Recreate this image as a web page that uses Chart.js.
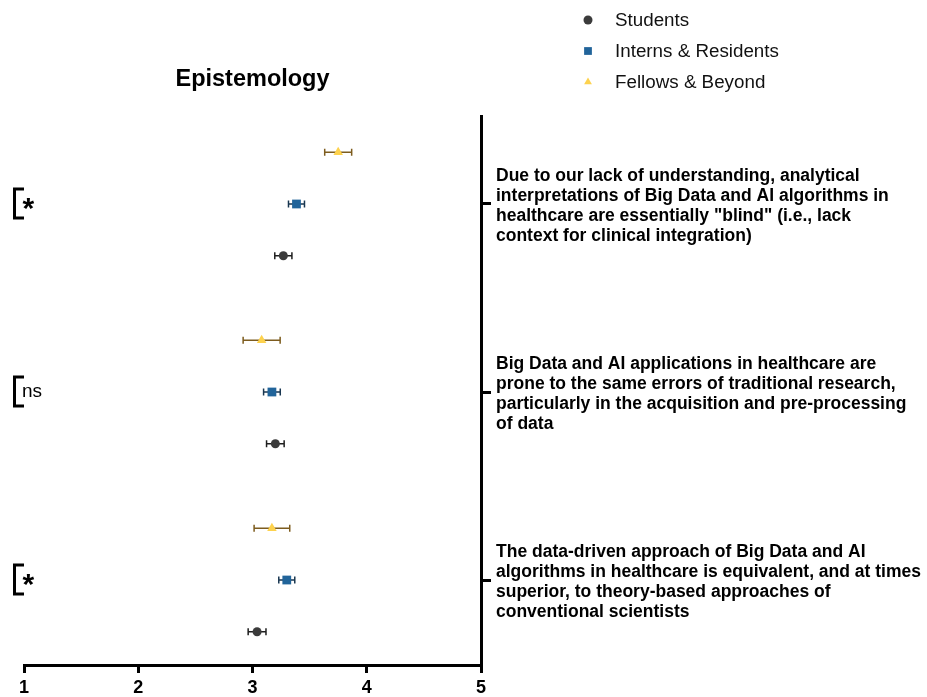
<!DOCTYPE html>
<html>
<head>
<meta charset="utf-8">
<title>Epistemology</title>
<script src="https://cdn.jsdelivr.net/npm/chart.js@4/dist/chart.umd.min.js"></script>
<style>
  body { margin: 0; background: #fff; }
  #wrap { width: 927px; height: 697px; }
</style>
</head>
<body>
<div id="wrap"><canvas id="chart" width="927" height="697"></canvas></div>
<script>
// statements, listed top to bottom
const statements = [
  ['Due to our lack of understanding, analytical',
   'interpretations of Big Data and AI algorithms in',
   'healthcare are essentially "blind" (i.e., lack',
   'context for clinical integration)'],
  ['Big Data and AI applications in healthcare are',
   'prone to the same errors of traditional research,',
   'particularly in the acquisition and pre-processing',
   'of data'],
  ['The data-driven approach of Big Data and AI',
   'algorithms in healthcare is equivalent, and at times',
   'superior, to theory-based approaches of',
   'conventional scientists']
];
const groups = ['Students', 'Interns & Residents', 'Fellows & Beyond'];
const significance = ['*', 'ns', '*'];
const xTicks = [1, 2, 3, 4, 5];

// mean and SEM, same order as statements
const studentsMean = [3.27, 3.20, 3.04];
const studentsErr  = [0.075, 0.077, 0.078];
const internsMean  = [3.385, 3.17, 3.30];
const internsErr   = [0.07, 0.073, 0.07];
const fellowsMean  = [3.75, 3.08, 3.17];
const fellowsErr   = [0.118, 0.162, 0.156];

const FONT = '"Liberation Sans", Arial, sans-serif';
const n = statements.length;
const posOf = i => n - i;          // top statement sits highest on the axis

function points(means, errs, shift) {
  return means.map((m, i) => ({ x: m, y: posOf(i) + shift, err: errs[i] }));
}

// horizontal error bars with caps, drawn under the markers
const errorBars = {
  id: 'errorBars',
  beforeDatasetsDraw(chart) {
    const { ctx, scales: { x, y } } = chart;
    chart.data.datasets.forEach((ds, i) => {
      if (!chart.isDatasetVisible(i)) return;
      ctx.save();
      ctx.strokeStyle = ds.errorColor;
      ctx.lineWidth = 1.5;
      ds.data.forEach(p => {
        const x0 = x.getPixelForValue(p.x - p.err);
        const x1 = x.getPixelForValue(p.x + p.err);
        const yp = y.getPixelForValue(p.y);
        ctx.beginPath();
        ctx.moveTo(x0, yp); ctx.lineTo(x1, yp);
        ctx.moveTo(x0, yp - 3.5); ctx.lineTo(x0, yp + 3.5);
        ctx.moveTo(x1, yp - 3.5); ctx.lineTo(x1, yp + 3.5);
        ctx.stroke();
      });
      ctx.restore();
    });
  }
};

// title over the plot area, stacked legend, significance brackets
const decorations = {
  id: 'decorations',
  afterDraw(chart) {
    const { ctx, chartArea, scales: { y } } = chart;
    ctx.save();
    ctx.fillStyle = '#000';
    ctx.font = 'bold 23.5px ' + FONT;
    ctx.textAlign = 'center';
    ctx.textBaseline = 'middle';
    ctx.fillText('Epistemology', (chartArea.left + chartArea.right) / 2, 80);

    // legend
    ctx.textAlign = 'left';
    ctx.font = '18.8px ' + FONT;
    chart.data.datasets.forEach((ds, i) => {
      const ly = 20 + i * 31;
      ctx.fillStyle = ds.backgroundColor;
      Chart.helpers.drawPoint(ctx, { pointStyle: ds.pointStyle, radius: ds.legendRadius, borderWidth: 0 }, 588, ly);
      ctx.fillStyle = '#111';
      ctx.fillText(ds.label, 615, ly + 1);
    });

    // brackets
    ctx.strokeStyle = '#000';
    ctx.lineWidth = 3;
    significance.forEach((s, i) => {
      const yp = y.getPixelForValue(posOf(i));
      ctx.beginPath();
      ctx.moveTo(24, yp - 15);
      ctx.lineTo(14.5, yp - 15);
      ctx.lineTo(14.5, yp + 14);
      ctx.lineTo(24, yp + 14);
      ctx.stroke();
      ctx.fillStyle = '#000';
      if (s === '*') {
        ctx.font = 'bold 30px ' + FONT;
        ctx.textBaseline = 'alphabetic';
        ctx.fillText(s, 22.5, yp + 14);
      } else {
        ctx.font = '19px ' + FONT;
        ctx.textBaseline = 'middle';
        ctx.fillText(s, 22, yp);
      }
    });
    ctx.restore();
  }
};

new Chart(document.getElementById('chart'), {
  type: 'scatter',
  data: {
    datasets: [
      {
        label: groups[0],
        data: points(studentsMean, studentsErr, -0.275),
        pointStyle: 'circle', pointRadius: 4.5, legendRadius: 4.5,
        backgroundColor: '#3b3b3b', borderWidth: 0, errorColor: '#1e1e1e'
      },
      {
        label: groups[1],
        data: points(internsMean, internsErr, 0),
        pointStyle: 'rect', pointRadius: 6.2, legendRadius: 5.5,
        backgroundColor: '#21649a', borderWidth: 0, errorColor: '#183650'
      },
      {
        label: groups[2],
        data: points(fellowsMean, fellowsErr, 0.275),
        pointStyle: 'triangle', pointRadius: 5.5, legendRadius: 4.5,
        backgroundColor: '#fdd24e', borderWidth: 0, errorColor: '#7d5c1e'
      }
    ]
  },
  options: {
    responsive: false,
    animation: false,
    layout: { padding: { top: 116, left: 24, right: 0, bottom: 0 } },
    plugins: {
      legend: { display: false },
      title: { display: false },
      tooltip: { enabled: false }
    },
    scales: {
      x: {
        type: 'linear',
        position: 'bottom',
        min: 1,
        max: 5,
        afterBuildTicks: s => { s.ticks = xTicks.map(v => ({ value: v })); },
        afterFit: s => { s.height = 32; },
        ticks: {
          color: '#000',
          padding: 4,
          font: { family: FONT, size: 18, weight: 'bold' }
        },
        grid: { drawOnChartArea: false, tickLength: 8, lineWidth: 3, color: '#000' },
        border: { display: true, width: 3, color: '#000' }
      },
      y: {
        type: 'linear',
        position: 'right',
        min: 0.548,
        max: 3.468,
        afterBuildTicks: s => { s.ticks = statements.map((_, i) => ({ value: posOf(i) })); },
        afterFit: s => { s.width = 446; s.paddingTop = 0; s.paddingBottom = 0; },
        ticks: {
          color: '#000',
          padding: 5,
          labelOffset: 2,
          autoSkip: false,
          font: { family: FONT, size: 17.5, weight: 'bold', lineHeight: '20px' },
          callback: (v) => statements[n - v]
        },
        grid: { drawOnChartArea: false, tickLength: 10, lineWidth: 3, color: '#000' },
        border: { display: true, width: 3, color: '#000' }
      }
    }
  },
  plugins: [errorBars, decorations]
});
</script>
</body>
</html>
